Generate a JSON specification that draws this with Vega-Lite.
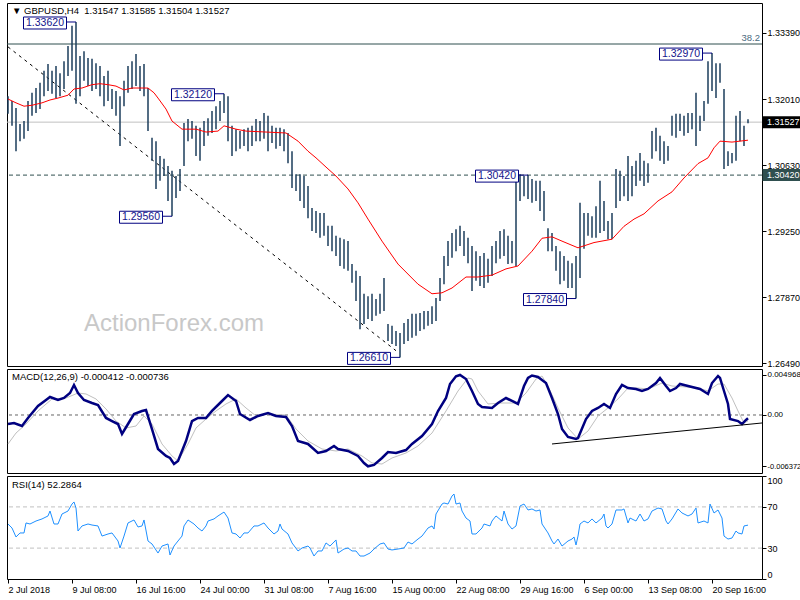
{
"$schema": "https://vega.github.io/schema/vega-lite/v6.json",
"background": "white",
"padding": {"left": 2, "top": 2, "right": 0, "bottom": 0},
"spacing": 3,
"bounds": "flush",
"config": {
 "view": {"stroke": "#000000", "strokeWidth": 1},
 "axis": {"domain": false, "grid": false, "ticks": true, "tickColor": "#000000", "tickSize": 4, "tickWidth": 1, "labelColor": "#000000", "labelFont": "Liberation Sans", "labelFontSize": 9, "labelPadding": 1},
 "text": {"font": "Liberation Sans"}
},
"datasets": {
 "bars": [
{"i":0,"h":1.3207,"l":1.3170},{"i":2,"h":1.3197,"l":1.3145},{"i":4,"h":1.3182,"l":1.3092},{"i":6,"h":1.3149,"l":1.3113},{"i":8,"h":1.3155,"l":1.3118},{"i":10,"h":1.3197,"l":1.3134},{"i":12,"h":1.3214,"l":1.3166},{"i":14,"h":1.3224,"l":1.3172},{"i":16,"h":1.3235,"l":1.3180},{"i":18,"h":1.3260,"l":1.3207},{"i":20,"h":1.3274,"l":1.3218},{"i":22,"h":1.3260,"l":1.3212},{"i":24,"h":1.3270,"l":1.3203},{"i":26,"h":1.3255,"l":1.3207},{"i":28,"h":1.3280,"l":1.3222},{"i":30,"h":1.3312,"l":1.3249},{"i":32,"h":1.3354,"l":1.3260},{"i":34,"h":1.3362,"l":1.3191},{"i":36,"h":1.3291,"l":1.3207},{"i":38,"h":1.3301,"l":1.3239},{"i":40,"h":1.3287,"l":1.3228},{"i":42,"h":1.3285,"l":1.3218},{"i":44,"h":1.3276,"l":1.3222},{"i":46,"h":1.3270,"l":1.3207},{"i":48,"h":1.3249,"l":1.3186},{"i":50,"h":1.3260,"l":1.3197},{"i":52,"h":1.3222,"l":1.3180},{"i":54,"h":1.3218,"l":1.3166},{"i":56,"h":1.3207,"l":1.3103},{"i":58,"h":1.3239,"l":1.3186},{"i":60,"h":1.3270,"l":1.3214},{"i":62,"h":1.3280,"l":1.3222},{"i":64,"h":1.3295,"l":1.3228},{"i":66,"h":1.3270,"l":1.3218},{"i":68,"h":1.3274,"l":1.3207},{"i":70,"h":1.3224,"l":1.3134},{"i":72,"h":1.3120,"l":1.3072},{"i":74,"h":1.3113,"l":1.3013},{"i":76,"h":1.3082,"l":1.3030},{"i":78,"h":1.3076,"l":1.3040},{"i":80,"h":1.3061,"l":1.2988},{"i":82,"h":1.3051,"l":1.2956},{"i":84,"h":1.3040,"l":1.2994},{"i":86,"h":1.3055,"l":1.3009},{"i":88,"h":1.3151,"l":1.3061},{"i":90,"h":1.3159,"l":1.3113},{"i":92,"h":1.3155,"l":1.3118},{"i":94,"h":1.3145,"l":1.3082},{"i":96,"h":1.3141,"l":1.3072},{"i":98,"h":1.3155,"l":1.3103},{"i":100,"h":1.3161,"l":1.3124},{"i":102,"h":1.3176,"l":1.3130},{"i":104,"h":1.3186,"l":1.3138},{"i":106,"h":1.3197,"l":1.3155},{"i":108,"h":1.3212,"l":1.3172},{"i":110,"h":1.3207,"l":1.3113},{"i":112,"h":1.3145,"l":1.3082},{"i":114,"h":1.3138,"l":1.3092},{"i":116,"h":1.3134,"l":1.3097},{"i":118,"h":1.3138,"l":1.3103},{"i":120,"h":1.3141,"l":1.3092},{"i":122,"h":1.3145,"l":1.3103},{"i":124,"h":1.3159,"l":1.3113},{"i":126,"h":1.3155,"l":1.3113},{"i":128,"h":1.3172,"l":1.3118},{"i":130,"h":1.3166,"l":1.3092},{"i":132,"h":1.3145,"l":1.3109},{"i":134,"h":1.3141,"l":1.3097},{"i":136,"h":1.3141,"l":1.3103},{"i":138,"h":1.3138,"l":1.3092},{"i":140,"h":1.3130,"l":1.3067},{"i":142,"h":1.3092,"l":1.3015},{"i":144,"h":1.3044,"l":1.3009},{"i":146,"h":1.3044,"l":1.2988},{"i":148,"h":1.3040,"l":1.2973},{"i":150,"h":1.3019,"l":1.2952},{"i":152,"h":1.2973,"l":1.2925},{"i":154,"h":1.2967,"l":1.2921},{"i":156,"h":1.2963,"l":1.2911},{"i":158,"h":1.2963,"l":1.2915},{"i":160,"h":1.2936,"l":1.2894},{"i":162,"h":1.2936,"l":1.2883},{"i":164,"h":1.2915,"l":1.2873},{"i":166,"h":1.2911,"l":1.2852},{"i":168,"h":1.2908,"l":1.2846},{"i":170,"h":1.2904,"l":1.2842},{"i":172,"h":1.2856,"l":1.2817},{"i":174,"h":1.2842,"l":1.2779},{"i":176,"h":1.2831,"l":1.2720},{"i":178,"h":1.2794,"l":1.2731},{"i":180,"h":1.2789,"l":1.2741},{"i":182,"h":1.2794,"l":1.2737},{"i":184,"h":1.2783,"l":1.2748},{"i":186,"h":1.2794,"l":1.2752},{"i":188,"h":1.2827,"l":1.2758},{"i":190,"h":1.2731,"l":1.2695},{"i":192,"h":1.2727,"l":1.2689},{"i":194,"h":1.2716,"l":1.2685},{"i":196,"h":1.2712,"l":1.2661},{"i":198,"h":1.2733,"l":1.2689},{"i":200,"h":1.2741,"l":1.2695},{"i":202,"h":1.2752,"l":1.2702},{"i":204,"h":1.2752,"l":1.2706},{"i":206,"h":1.2754,"l":1.2716},{"i":208,"h":1.2758,"l":1.2720},{"i":210,"h":1.2758,"l":1.2727},{"i":212,"h":1.2768,"l":1.2731},{"i":214,"h":1.2785,"l":1.2737},{"i":216,"h":1.2827,"l":1.2779},{"i":218,"h":1.2873,"l":1.2814},{"i":220,"h":1.2904,"l":1.2852},{"i":222,"h":1.2921,"l":1.2869},{"i":224,"h":1.2929,"l":1.2883},{"i":226,"h":1.2936,"l":1.2894},{"i":228,"h":1.2925,"l":1.2873},{"i":230,"h":1.2911,"l":1.2858},{"i":232,"h":1.2894,"l":1.2800},{"i":234,"h":1.2883,"l":1.2821},{"i":236,"h":1.2873,"l":1.2810},{"i":238,"h":1.2879,"l":1.2806},{"i":240,"h":1.2867,"l":1.2817},{"i":242,"h":1.2894,"l":1.2831},{"i":244,"h":1.2904,"l":1.2858},{"i":246,"h":1.2925,"l":1.2867},{"i":248,"h":1.2929,"l":1.2873},{"i":250,"h":1.2915,"l":1.2856},{"i":252,"h":1.2904,"l":1.2858},{"i":254,"h":1.3040,"l":1.2852},{"i":256,"h":1.3044,"l":1.2988},{"i":258,"h":1.3040,"l":1.2998},{"i":260,"h":1.3042,"l":1.2992},{"i":262,"h":1.3034,"l":1.2984},{"i":264,"h":1.3030,"l":1.2988},{"i":266,"h":1.3030,"l":1.2967},{"i":268,"h":1.3009,"l":1.2946},{"i":270,"h":1.2931,"l":1.2883},{"i":272,"h":1.2921,"l":1.2883},{"i":274,"h":1.2894,"l":1.2842},{"i":276,"h":1.2883,"l":1.2814},{"i":278,"h":1.2873,"l":1.2821},{"i":280,"h":1.2863,"l":1.2806},{"i":282,"h":1.2858,"l":1.2806},{"i":284,"h":1.2873,"l":1.2784},{"i":286,"h":1.2984,"l":1.2827},{"i":288,"h":1.2963,"l":1.2888},{"i":290,"h":1.2963,"l":1.2915},{"i":292,"h":1.2956,"l":1.2911},{"i":294,"h":1.2977,"l":1.2911},{"i":296,"h":1.3030,"l":1.2921},{"i":298,"h":1.2988,"l":1.2925},{"i":300,"h":1.2946,"l":1.2908},{"i":302,"h":1.2963,"l":1.2908},{"i":304,"h":1.3055,"l":1.2973},{"i":306,"h":1.3051,"l":1.2988},{"i":308,"h":1.3040,"l":1.2998},{"i":310,"h":1.3082,"l":1.2988},{"i":312,"h":1.3061,"l":1.2998},{"i":314,"h":1.3072,"l":1.3019},{"i":316,"h":1.3088,"l":1.3030},{"i":318,"h":1.3072,"l":1.3019},{"i":320,"h":1.3067,"l":1.3026},{"i":322,"h":1.3134,"l":1.3076},{"i":324,"h":1.3141,"l":1.3092},{"i":326,"h":1.3124,"l":1.3072},{"i":328,"h":1.3113,"l":1.3065},{"i":330,"h":1.3103,"l":1.3072},{"i":332,"h":1.3166,"l":1.3124},{"i":334,"h":1.3170,"l":1.3120},{"i":336,"h":1.3170,"l":1.3134},{"i":338,"h":1.3166,"l":1.3124},{"i":340,"h":1.3172,"l":1.3130},{"i":342,"h":1.3172,"l":1.3138},{"i":344,"h":1.3214,"l":1.3103},{"i":346,"h":1.3166,"l":1.3134},{"i":348,"h":1.3197,"l":1.3155},{"i":350,"h":1.3280,"l":1.3191},{"i":352,"h":1.3297,"l":1.3218},{"i":354,"h":1.3276,"l":1.3203},{"i":356,"h":1.3276,"l":1.3235},{"i":358,"h":1.3222,"l":1.3055},{"i":360,"h":1.3092,"l":1.3061},{"i":362,"h":1.3088,"l":1.3067},{"i":364,"h":1.3166,"l":1.3072},{"i":366,"h":1.3176,"l":1.3113},{"i":368,"h":1.3145,"l":1.3103},{"i":370,"h":1.31585,"l":1.31504}
 ],
 "ma": [
{"i":0,"m":1.3201},{"i":4,"m":1.3193},{"i":8,"m":1.3186},{"i":12,"m":1.3188},{"i":17,"m":1.3193},{"i":21,"m":1.3199},{"i":25,"m":1.3203},{"i":30,"m":1.3209},{"i":33,"m":1.3222},{"i":37,"m":1.3224},{"i":42,"m":1.3231},{"i":46,"m":1.3233},{"i":50,"m":1.3231},{"i":54,"m":1.3228},{"i":58,"m":1.3220},{"i":62,"m":1.3224},{"i":67,"m":1.3224},{"i":70,"m":1.3224},{"i":73,"m":1.3214},{"i":75,"m":1.3203},{"i":79,"m":1.3180},{"i":82,"m":1.3155},{"i":87,"m":1.3138},{"i":94,"m":1.3138},{"i":99,"m":1.3132},{"i":105,"m":1.3134},{"i":108,"m":1.3145},{"i":114,"m":1.3138},{"i":119,"m":1.3134},{"i":129,"m":1.3132},{"i":139,"m":1.3130},{"i":145,"m":1.3113},{"i":150,"m":1.3092},{"i":154,"m":1.3078},{"i":160,"m":1.3055},{"i":164,"m":1.3040},{"i":170,"m":1.3013},{"i":175,"m":1.2984},{"i":180,"m":1.2950},{"i":187,"m":1.2904},{"i":195,"m":1.2856},{"i":205,"m":1.2814},{"i":212,"m":1.2794},{"i":217,"m":1.2796},{"i":222,"m":1.2806},{"i":229,"m":1.2829},{"i":235,"m":1.2829},{"i":242,"m":1.2833},{"i":249,"m":1.2846},{"i":255,"m":1.2852},{"i":262,"m":1.2883},{"i":267,"m":1.2910},{"i":272,"m":1.2913},{"i":277,"m":1.2904},{"i":285,"m":1.2890},{"i":293,"m":1.2901},{"i":302,"m":1.2908},{"i":308,"m":1.2935},{"i":313,"m":1.2950},{"i":318,"m":1.2961},{"i":325,"m":1.2988},{"i":332,"m":1.3007},{"i":338,"m":1.3036},{"i":345,"m":1.3066},{"i":350,"m":1.3078},{"i":353,"m":1.3099},{"i":356,"m":1.3113},{"i":362,"m":1.3111},{"i":370,"m":1.3115}
 ],
 "macd": [
{"i":0,"v":-0.00112},{"i":3,"v":-0.00099},{"i":7,"v":-0.00137},{"i":10,"v":-0.00037},{"i":15,"v":0.00112},{"i":19,"v":0.00186},{"i":21,"v":0.00224},{"i":25,"v":0.00186},{"i":28,"v":0.00211},{"i":31,"v":0.00273},{"i":33,"v":0.00373},{"i":35,"v":0.00273},{"i":38,"v":0.00186},{"i":42,"v":0.00149},{"i":45,"v":0.00124},{"i":49,"v":-0.00037},{"i":52,"v":-0.00075},{"i":55,"v":-0.00112},{"i":57,"v":-0.00236},{"i":60,"v":-0.00112},{"i":63,"v":0.00012},{"i":67,"v":0.00050},{"i":69,"v":0.00062},{"i":72,"v":-0.00174},{"i":75,"v":-0.00422},{"i":79,"v":-0.00509},{"i":81,"v":-0.00534},{"i":83,"v":-0.00609},{"i":85,"v":-0.00571},{"i":89,"v":-0.00323},{"i":92,"v":-0.00075},{"i":95,"v":-0.00037},{"i":99,"v":-0.00037},{"i":102,"v":0.00050},{"i":106,"v":0.00149},{"i":110,"v":0.00248},{"i":114,"v":0.00174},{"i":116,"v":0.00012},{"i":121,"v":-0.00062},{"i":125,"v":-0.00012},{"i":130,"v":0.00025},{"i":134,"v":-0.00012},{"i":139,"v":-0.00025},{"i":142,"v":-0.00137},{"i":145,"v":-0.00323},{"i":150,"v":-0.00360},{"i":155,"v":-0.00472},{"i":159,"v":-0.00447},{"i":163,"v":-0.00385},{"i":165,"v":-0.00422},{"i":170,"v":-0.00447},{"i":175,"v":-0.00509},{"i":178,"v":-0.00596},{"i":180,"v":-0.00637},{"i":183,"v":-0.00620},{"i":187,"v":-0.00534},{"i":190,"v":-0.00460},{"i":194,"v":-0.00472},{"i":199,"v":-0.00435},{"i":202,"v":-0.00360},{"i":207,"v":-0.00261},{"i":212,"v":-0.00112},{"i":215,"v":0.00050},{"i":219,"v":0.00211},{"i":221,"v":0.00385},{"i":224,"v":0.00480},{"i":226,"v":0.00497},{"i":229,"v":0.00447},{"i":232,"v":0.00298},{"i":235,"v":0.00137},{"i":237,"v":0.00099},{"i":242,"v":0.00087},{"i":245,"v":0.00149},{"i":249,"v":0.00211},{"i":252,"v":0.00174},{"i":255,"v":0.00137},{"i":258,"v":0.00360},{"i":260,"v":0.00460},{"i":262,"v":0.00490},{"i":265,"v":0.00472},{"i":269,"v":0.00397},{"i":272,"v":0.00211},{"i":275,"v":0.00012},{"i":277,"v":-0.00174},{"i":280,"v":-0.00273},{"i":284,"v":-0.00298},{"i":285,"v":-0.00286},{"i":289,"v":-0.00050},{"i":292,"v":0.00050},{"i":295,"v":0.00087},{"i":298,"v":0.00137},{"i":301,"v":0.00087},{"i":304,"v":0.00261},{"i":307,"v":0.00373},{"i":310,"v":0.00335},{"i":314,"v":0.00323},{"i":317,"v":0.00298},{"i":320,"v":0.00323},{"i":324,"v":0.00397},{"i":326,"v":0.00460},{"i":329,"v":0.00360},{"i":331,"v":0.00298},{"i":334,"v":0.00335},{"i":336,"v":0.00385},{"i":342,"v":0.00348},{"i":346,"v":0.00323},{"i":350,"v":0.00261},{"i":352,"v":0.00397},{"i":355,"v":0.00484},{"i":356,"v":0.00460},{"i":358,"v":0.00298},{"i":360,"v":0.00137},{"i":361,"v":-0.00050},{"i":365,"v":-0.00075},{"i":367,"v":-0.00112},{"i":369,"v":-0.00062},{"i":370,"v":-0.00041}
 ],
 "sig": [
{"i":0,"s":-0.00360},{"i":4,"s":-0.00224},{"i":9,"s":-0.00112},{"i":15,"s":0.00050},{"i":22,"s":0.00199},{"i":29,"s":0.00211},{"i":35,"s":0.00273},{"i":39,"s":0.00261},{"i":44,"s":0.00199},{"i":49,"s":0.00075},{"i":54,"s":-0.00075},{"i":59,"s":-0.00161},{"i":64,"s":-0.00137},{"i":68,"s":-0.00012},{"i":72,"s":-0.00112},{"i":77,"s":-0.00360},{"i":82,"s":-0.00509},{"i":85,"s":-0.00571},{"i":90,"s":-0.00360},{"i":94,"s":-0.00161},{"i":99,"s":-0.00050},{"i":104,"s":0.00050},{"i":109,"s":0.00137},{"i":114,"s":0.00199},{"i":119,"s":0.00087},{"i":124,"s":-0.00012},{"i":130,"s":0.00012},{"i":139,"s":0.00000},{"i":144,"s":-0.00174},{"i":150,"s":-0.00323},{"i":157,"s":-0.00422},{"i":164,"s":-0.00447},{"i":170,"s":-0.00422},{"i":177,"s":-0.00509},{"i":182,"s":-0.00596},{"i":187,"s":-0.00609},{"i":192,"s":-0.00534},{"i":199,"s":-0.00472},{"i":205,"s":-0.00385},{"i":212,"s":-0.00224},{"i":219,"s":0.00050},{"i":225,"s":0.00298},{"i":230,"s":0.00460},{"i":232,"s":0.00447},{"i":235,"s":0.00298},{"i":240,"s":0.00137},{"i":247,"s":0.00149},{"i":254,"s":0.00149},{"i":259,"s":0.00273},{"i":264,"s":0.00447},{"i":267,"s":0.00484},{"i":270,"s":0.00360},{"i":275,"s":0.00087},{"i":280,"s":-0.00161},{"i":285,"s":-0.00298},{"i":290,"s":-0.00199},{"i":295,"s":-0.00012},{"i":300,"s":0.00087},{"i":305,"s":0.00199},{"i":310,"s":0.00335},{"i":315,"s":0.00335},{"i":320,"s":0.00323},{"i":327,"s":0.00397},{"i":332,"s":0.00360},{"i":339,"s":0.00348},{"i":345,"s":0.00335},{"i":350,"s":0.00298},{"i":355,"s":0.00385},{"i":358,"s":0.00385},{"i":362,"s":0.00211},{"i":365,"s":0.00050},{"i":368,"s":-0.00099},{"i":370,"s":-0.00074}
 ],
 "rsi": [
{"i":0,"r":53.4},{"i":2,"r":49.5},{"i":4,"r":40.8},{"i":6,"r":44.7},{"i":8,"r":44.7},{"i":9,"r":54.4},{"i":11,"r":53.4},{"i":14,"r":56.3},{"i":17,"r":58.3},{"i":20,"r":61.2},{"i":21,"r":66.0},{"i":23,"r":53.4},{"i":25,"r":53.4},{"i":27,"r":63.1},{"i":30,"r":66.0},{"i":32,"r":72.8},{"i":33,"r":74.8},{"i":34,"r":68.9},{"i":35,"r":46.6},{"i":37,"r":51.5},{"i":40,"r":53.4},{"i":42,"r":52.4},{"i":45,"r":51.5},{"i":47,"r":41.7},{"i":50,"r":43.7},{"i":52,"r":44.7},{"i":55,"r":36.9},{"i":56,"r":30.1},{"i":58,"r":41.7},{"i":60,"r":54.4},{"i":63,"r":57.3},{"i":65,"r":50.5},{"i":67,"r":51.5},{"i":68,"r":57.3},{"i":70,"r":36.9},{"i":72,"r":34.0},{"i":75,"r":25.2},{"i":77,"r":32.0},{"i":80,"r":34.0},{"i":81,"r":23.3},{"i":83,"r":32.0},{"i":85,"r":36.9},{"i":87,"r":41.7},{"i":88,"r":51.5},{"i":90,"r":57.3},{"i":93,"r":53.4},{"i":95,"r":49.5},{"i":97,"r":46.6},{"i":99,"r":51.5},{"i":100,"r":56.3},{"i":103,"r":58.3},{"i":105,"r":61.2},{"i":108,"r":65.0},{"i":110,"r":59.2},{"i":112,"r":44.7},{"i":114,"r":43.7},{"i":116,"r":39.8},{"i":118,"r":44.7},{"i":120,"r":44.7},{"i":123,"r":51.5},{"i":125,"r":51.5},{"i":128,"r":54.4},{"i":130,"r":49.5},{"i":133,"r":43.7},{"i":135,"r":46.6},{"i":136,"r":53.4},{"i":137,"r":48.5},{"i":140,"r":43.7},{"i":142,"r":35.0},{"i":145,"r":27.2},{"i":147,"r":30.1},{"i":150,"r":32.0},{"i":151,"r":30.1},{"i":153,"r":22.3},{"i":155,"r":27.2},{"i":157,"r":27.2},{"i":159,"r":35.0},{"i":161,"r":32.0},{"i":164,"r":37.9},{"i":165,"r":25.2},{"i":168,"r":29.1},{"i":170,"r":30.1},{"i":172,"r":27.2},{"i":174,"r":27.2},{"i":176,"r":22.3},{"i":178,"r":22.3},{"i":181,"r":25.2},{"i":183,"r":29.1},{"i":186,"r":34.0},{"i":188,"r":35.0},{"i":190,"r":29.1},{"i":192,"r":28.2},{"i":195,"r":29.1},{"i":198,"r":30.1},{"i":200,"r":35.9},{"i":202,"r":34.0},{"i":205,"r":38.8},{"i":207,"r":41.7},{"i":210,"r":49.5},{"i":212,"r":51.5},{"i":213,"r":48.5},{"i":214,"r":63.1},{"i":217,"r":72.8},{"i":218,"r":73.8},{"i":220,"r":72.8},{"i":222,"r":80.6},{"i":223,"r":82.5},{"i":224,"r":72.8},{"i":226,"r":73.8},{"i":227,"r":66.0},{"i":229,"r":59.2},{"i":231,"r":56.3},{"i":232,"r":43.7},{"i":234,"r":43.7},{"i":237,"r":49.5},{"i":238,"r":53.4},{"i":241,"r":51.5},{"i":242,"r":56.3},{"i":244,"r":61.2},{"i":247,"r":56.3},{"i":248,"r":66.0},{"i":250,"r":53.4},{"i":252,"r":48.5},{"i":254,"r":51.5},{"i":256,"r":70.9},{"i":258,"r":72.8},{"i":260,"r":67.0},{"i":262,"r":68.0},{"i":264,"r":66.0},{"i":266,"r":67.0},{"i":267,"r":53.4},{"i":270,"r":44.7},{"i":272,"r":36.9},{"i":273,"r":34.0},{"i":275,"r":38.8},{"i":277,"r":32.0},{"i":280,"r":36.9},{"i":282,"r":38.8},{"i":283,"r":40.8},{"i":284,"r":33.0},{"i":285,"r":41.7},{"i":286,"r":53.4},{"i":288,"r":56.3},{"i":290,"r":54.4},{"i":292,"r":58.3},{"i":294,"r":54.4},{"i":297,"r":59.2},{"i":298,"r":63.1},{"i":299,"r":51.5},{"i":300,"r":49.5},{"i":302,"r":53.4},{"i":304,"r":67.0},{"i":307,"r":67.0},{"i":308,"r":68.0},{"i":310,"r":54.4},{"i":311,"r":59.2},{"i":314,"r":56.3},{"i":316,"r":63.1},{"i":318,"r":56.3},{"i":320,"r":58.3},{"i":322,"r":66.0},{"i":325,"r":68.9},{"i":327,"r":68.0},{"i":329,"r":56.3},{"i":330,"r":53.4},{"i":332,"r":58.3},{"i":335,"r":68.0},{"i":337,"r":64.1},{"i":340,"r":61.2},{"i":342,"r":63.1},{"i":344,"r":68.9},{"i":345,"r":54.4},{"i":348,"r":56.3},{"i":350,"r":54.4},{"i":351,"r":72.8},{"i":353,"r":64.1},{"i":355,"r":67.0},{"i":357,"r":59.2},{"i":358,"r":41.7},{"i":360,"r":38.8},{"i":362,"r":39.8},{"i":364,"r":46.6},{"i":365,"r":44.7},{"i":367,"r":43.7},{"i":368,"r":51.5},{"i":370,"r":52.3}
 ],
 "ann": [
{"t":"1.33620","i":34,"p":1.3362},{"t":"1.32120","i":108,"p":1.3212},{"t":"1.29560","i":82,"p":1.2956},{"t":"1.26610","i":196,"p":1.2661},{"t":"1.30420","i":260,"p":1.3042},{"t":"1.27840","i":284,"p":1.2784},{"t":"1.32970","i":352,"p":1.3297}
 ],
 "trend": [{"i":0,"p":1.3310},{"i":194,"p":1.2675}],
 "mtrend": [{"i":272,"v":-0.0036},{"i":377,"v":-0.00099}]
},
"vconcat": [
{
 "width": 755, "height": 363,
 "layer": [
  {"data": {"values": [{}]},
   "mark": {"type": "text", "text": "ActionForex.com", "fontSize": 24, "color": "#c8c8c8", "align": "center", "baseline": "middle"},
   "encoding": {
    "x": {"datum": 83, "type": "quantitative", "scale": {"domain": [-0.5, 377], "nice": false, "zero": false}, "axis": null},
    "y": {"datum": 1.2731, "type": "quantitative", "scale": {"domain": [1.2643, 1.34017], "nice": false, "zero": false}, "title": null,
          "axis": {"orient": "right", "values": [1.2649,1.2717,1.2787,1.2855,1.2925,1.2993,1.3063,1.3131,1.3201,1.3269,1.3339], "format": ".5f", "labelOverlap": false, "title": null}}
   }},
  {"data": {"values": [{}]}, "mark": {"type": "rule", "color": "#c0c0c0", "strokeWidth": 1}, "encoding": {"y": {"datum": 1.31527, "type": "quantitative", "title": null}}},
  {"data": {"values": [{}]}, "mark": {"type": "rule", "color": "#2f4f4f", "strokeWidth": 1}, "encoding": {"y": {"datum": 1.3316, "type": "quantitative", "title": null}}},
  {"data": {"values": [{}]}, "mark": {"type": "rule", "color": "#2f4f4f", "strokeWidth": 1, "strokeDash": [4,3]}, "encoding": {"y": {"datum": 1.3042, "type": "quantitative", "title": null}}},
  {"data": {"name": "trend"}, "mark": {"type": "line", "color": "#000000", "strokeWidth": 1, "strokeDash": [3,4]},
   "encoding": {"x": {"field": "i", "type": "quantitative", "axis": null}, "y": {"field": "p", "type": "quantitative", "title": null}}},
  {"data": {"name": "bars"}, "mark": {"type": "rule", "color": "#1b3d5b", "strokeWidth": 1.5},
   "encoding": {"x": {"field": "i", "type": "quantitative", "axis": null}, "y": {"field": "h", "type": "quantitative", "title": null}, "y2": {"field": "l"}}},
  {"data": {"name": "ma"}, "mark": {"type": "line", "color": "#ff0000", "strokeWidth": 1},
   "encoding": {"x": {"field": "i", "type": "quantitative", "axis": null}, "y": {"field": "m", "type": "quantitative", "title": null}}},
  {"data": {"name": "ann"}, "mark": {"type": "rule", "color": "#000080", "strokeWidth": 1, "xOffset": -10},
   "encoding": {"x": {"field": "i", "type": "quantitative", "axis": null}, "x2": {"field": "i"}, "y": {"field": "p", "type": "quantitative", "title": null}}},
  {"data": {"name": "ann"}, "mark": {"type": "rect", "width": 43, "height": 12, "xOffset": -31, "yOffset": 1, "fill": "#ffffff", "stroke": "#000080", "strokeWidth": 1},
   "encoding": {"x": {"field": "i", "type": "quantitative", "axis": null}, "y": {"field": "p", "type": "quantitative", "title": null}}},
  {"data": {"name": "ann"}, "mark": {"type": "text", "dx": -31, "dy": 1, "align": "center", "baseline": "middle", "fontSize": 10.5, "color": "#14148c"},
   "encoding": {"x": {"field": "i", "type": "quantitative", "axis": null}, "y": {"field": "p", "type": "quantitative", "title": null}, "text": {"field": "t"}}},
  {"data": {"values": [{}]}, "mark": {"type": "rect", "width": 43, "height": 12, "xOffset": 22, "fill": "#000000"},
   "encoding": {"x": {"datum": 377, "type": "quantitative", "axis": null}, "y": {"datum": 1.31527, "type": "quantitative", "title": null}}},
  {"data": {"values": [{}]}, "mark": {"type": "text", "text": "1.31527", "dx": 5, "align": "left", "baseline": "middle", "fontSize": 9, "color": "#ffffff"},
   "encoding": {"x": {"datum": 377, "type": "quantitative", "axis": null}, "y": {"datum": 1.31527, "type": "quantitative", "title": null}}},
  {"data": {"values": [{}]}, "mark": {"type": "rect", "width": 43, "height": 12, "xOffset": 22, "fill": "#2f4f4f"},
   "encoding": {"x": {"datum": 377, "type": "quantitative", "axis": null}, "y": {"datum": 1.3042, "type": "quantitative", "title": null}}},
  {"data": {"values": [{}]}, "mark": {"type": "text", "text": "1.30420", "dx": 5, "align": "left", "baseline": "middle", "fontSize": 9, "color": "#ffffff"},
   "encoding": {"x": {"datum": 377, "type": "quantitative", "axis": null}, "y": {"datum": 1.3042, "type": "quantitative", "title": null}}},
  {"data": {"values": [{}]}, "mark": {"type": "text", "text": "38.2", "dx": -2, "dy": -6, "align": "right", "baseline": "middle", "fontSize": 9.5, "color": "#4b6b80"},
   "encoding": {"x": {"datum": 377, "type": "quantitative", "axis": null}, "y": {"datum": 1.3316, "type": "quantitative", "title": null}}},
  {"data": {"values": [{}]}, "mark": {"type": "text", "text": "▼ GBPUSD,H4\u00a0 1.31547 1.31585 1.31504 1.31527", "dx": 5, "dy": 8, "align": "left", "baseline": "middle", "fontSize": 9.5, "color": "#000000"},
   "encoding": {"x": {"datum": -0.5, "type": "quantitative", "axis": null}, "y": {"datum": 1.34017, "type": "quantitative", "title": null}}}
 ]
},
{
 "width": 755, "height": 104,
 "layer": [
  {"data": {"values": [{}]}, "mark": {"type": "rule", "color": "#666666", "strokeWidth": 1, "strokeDash": [3,3]},
   "encoding": {"y": {"datum": 0, "type": "quantitative", "scale": {"domain": [-0.007204, 0.005713], "nice": false, "zero": false}, "title": null,
     "axis": {"orient": "right", "values": [-0.006372, 0, 0.004968], "labelFontSize": {"condition": {"test": "datum.value < -0.001", "value": 7.5}, "value": 8}, "labelExpr": "datum.value > 0.001 ? '0.004968' : (datum.value < -0.001 ? '-0.006372' : '0.00')", "labelOverlap": false, "title": null}}}},
  {"data": {"name": "sig"}, "mark": {"type": "line", "color": "#c0c0c0", "strokeWidth": 1},
   "encoding": {"x": {"field": "i", "type": "quantitative", "scale": {"domain": [-0.5, 377], "nice": false, "zero": false}, "axis": null}, "y": {"field": "s", "type": "quantitative", "title": null}}},
  {"data": {"name": "macd"}, "mark": {"type": "line", "color": "#000080", "strokeWidth": 2.5},
   "encoding": {"x": {"field": "i", "type": "quantitative", "axis": null}, "y": {"field": "v", "type": "quantitative", "title": null}}},
  {"data": {"name": "mtrend"}, "mark": {"type": "line", "color": "#000000", "strokeWidth": 1},
   "encoding": {"x": {"field": "i", "type": "quantitative", "axis": null}, "y": {"field": "v", "type": "quantitative", "title": null}}},
  {"data": {"values": [{}]}, "mark": {"type": "text", "text": "MACD(12,26,9) -0.000412 -0.000736", "dx": 5, "dy": 8, "align": "left", "baseline": "middle", "fontSize": 9.5, "color": "#000000"},
   "encoding": {"x": {"datum": -0.5, "type": "quantitative", "axis": null}, "y": {"datum": 0.005713, "type": "quantitative", "title": null}}}
 ]
},
{
 "width": 755, "height": 103,
 "layer": [
  {"data": {"values": [{"lv": 70}, {"lv": 30}]}, "mark": {"type": "rule", "color": "#c0c0c0", "strokeWidth": 1, "strokeDash": [4,3]},
   "encoding": {"y": {"field": "lv", "type": "quantitative", "scale": {"domain": [0, 100], "nice": false, "zero": false}, "title": null,
     "axis": {"orient": "right", "values": [0, 30, 70, 100], "labelOverlap": false, "title": null,
       "labelBaseline": {"condition": [{"test": "datum.value >= 100", "value": "top"}, {"test": "datum.value <= 0", "value": "bottom"}], "value": "middle"}}}}},
  {"data": {"name": "rsi"}, "mark": {"type": "line", "color": "#1e90ff", "strokeWidth": 1},
   "encoding": {"x": {"field": "i", "type": "quantitative", "scale": {"domain": [-0.5, 377], "nice": false, "zero": false}, "title": null,
     "axis": {"orient": "bottom", "values": [0,32,64,96,128,160,192,224,256,288,320,352], "labelExpr": "['2 Jul 2018','9 Jul 08:00','16 Jul 16:00','24 Jul 00:00','31 Jul 08:00','7 Aug 16:00','15 Aug 00:00','22 Aug 08:00','29 Aug 16:00','6 Sep 00:00','13 Sep 08:00','20 Sep 16:00'][round(datum.value/32)]", "labelAlign": "left", "labelBaseline": "top", "labelOverlap": false, "labelFlush": false, "labelBound": false, "labelPadding": 2, "title": null}},
    "y": {"field": "r", "type": "quantitative", "title": null,
     "axis": {"orient": "right", "values": [0, 30, 70, 100], "labelOverlap": false, "title": null,
       "labelBaseline": {"condition": [{"test": "datum.value >= 100", "value": "top"}, {"test": "datum.value <= 0", "value": "bottom"}], "value": "middle"}}}}},
  {"data": {"values": [{}]}, "mark": {"type": "text", "text": "RSI(14) 52.2864", "dx": 5, "dy": 9, "align": "left", "baseline": "middle", "fontSize": 9.5, "color": "#000000"},
   "encoding": {"x": {"datum": -0.5, "type": "quantitative", "title": null}, "y": {"datum": 100, "type": "quantitative", "title": null,
     "axis": {"orient": "right", "values": [0, 30, 70, 100], "labelOverlap": false, "title": null,
       "labelBaseline": {"condition": [{"test": "datum.value >= 100", "value": "top"}, {"test": "datum.value <= 0", "value": "bottom"}], "value": "middle"}}}}}
 ]
}
]
}
